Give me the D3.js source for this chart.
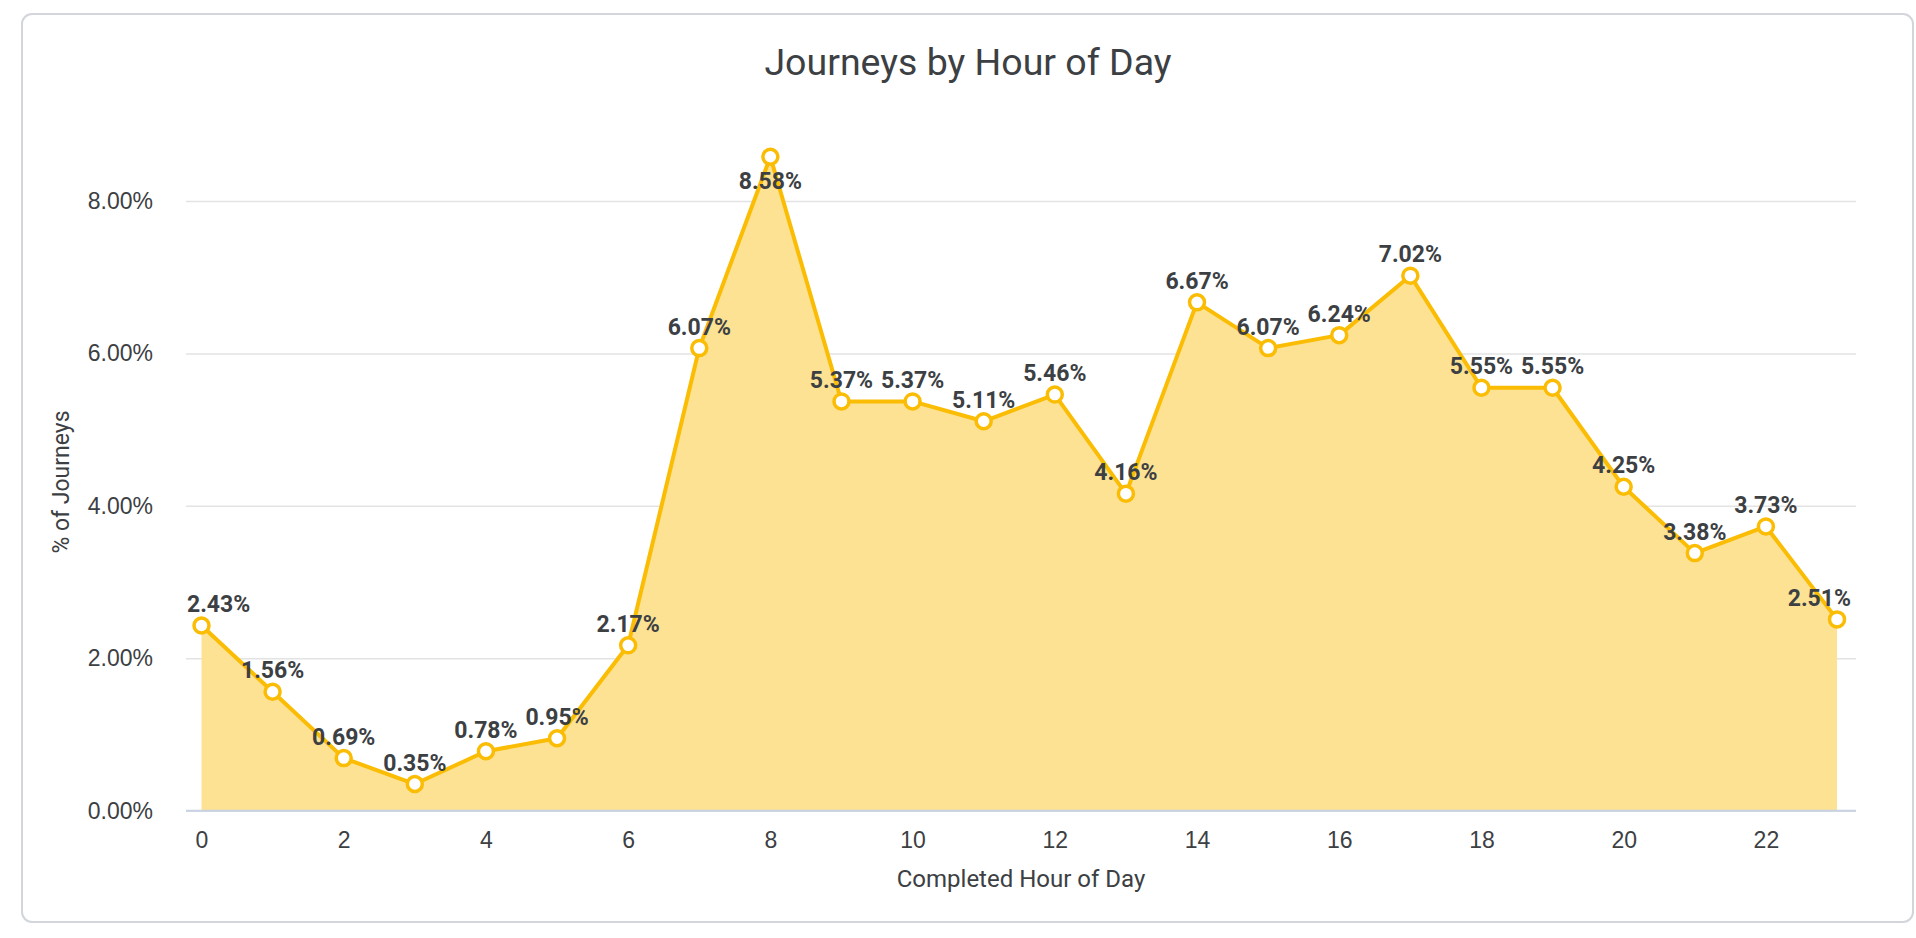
<!DOCTYPE html>
<meta charset="UTF-8">
<html>
<head>
<style>
html, body {
  margin:0;
  padding:0;
  background:#fff;
}
svg {
  display:block;
  font-family: Roboto, "Noto Sans", sans-serif;
}
.grid line {
  stroke:#e3e3e3;
  stroke-width:1.5px;
}
.grid text, .xaxis text {
  fill:#3c4043;
  font-size:23px;
}
.dlabel {
  fill:#3c4043;
  font-size:23px;
  font-weight:bold;
}
</style>
</head>
<body>
<svg width="1916" height="938"></svg>
<script src="https://cdn.jsdelivr.net/npm/d3@7"></script>
<script>
// hours 0..23 and share of journeys (%)
var hours = [0,1,2,3,4,5,6,7,8,9,10,11,12,13,14,15,16,17,18,19,20,21,22,23];
var shares = [2.43,1.56,0.69,0.35,0.78,0.95,2.17,6.07,8.58,5.37,5.37,5.11,5.46,4.16,6.67,6.07,6.24,7.02,5.55,5.55,4.25,3.38,3.73,2.51];
var yTicks = [0,2,4,6,8];
var xTicks = [0,2,4,6,8,10,12,14,16,18,20,22];

var svg = d3.select("svg");

// plot box
var plotL = 186, plotR = 1856, plotT = 201, plotB = 810.7;

var x = d3.scaleLinear().domain([0,23]).range([201.5,1837]);
var y = d3.scaleLinear().domain([0,8]).range([plotB, plotT]);

// card
svg.append("rect")
  .attr("x", 22).attr("y", 14)
  .attr("width", 1891).attr("height", 908)
  .attr("rx", 10)
  .attr("fill", "#fff")
  .attr("stroke", "#d2d5da")
  .attr("stroke-width", 2);

svg.append("text")
  .attr("x", 968).attr("y", 75)
  .attr("text-anchor", "middle")
  .attr("fill", "#3c4043")
  .style("font-size", "37.5px")
  .text("Journeys by Hour of Day");

// gridlines + y labels
var yAxis = d3.axisLeft(y)
  .tickValues(yTicks)
  .tickSize(-(plotR - plotL))
  .tickPadding(33)
  .tickFormat(function(d) { return d.toFixed(2) + "%"; });

var gy = svg.append("g")
  .attr("class", "grid")
  .attr("transform", "translate(" + plotL + ",0)")
  .call(yAxis);
gy.select(".domain").remove();

// area + line
var area = d3.area()
  .x(function(d, i) { return x(hours[i]); })
  .y0(plotB)
  .y1(function(d) { return y(d); });

var line = d3.line()
  .x(function(d, i) { return x(hours[i]); })
  .y(function(d) { return y(d); });

svg.append("path")
  .datum(shares)
  .attr("d", area)
  .attr("fill", "#fde293");

// baseline
svg.append("line")
  .attr("x1", plotL).attr("x2", plotR)
  .attr("y1", plotB).attr("y2", plotB)
  .attr("stroke", "#c9d2e3")
  .attr("stroke-width", 2);

var xAxis = d3.axisBottom(x)
  .tickValues(xTicks)
  .tickSize(0)
  .tickPadding(21);

var gx = svg.append("g")
  .attr("class", "xaxis")
  .attr("transform", "translate(0," + plotB + ")")
  .call(xAxis);
gx.select(".domain").remove();

svg.append("path")
  .datum(shares)
  .attr("d", line)
  .attr("fill", "none")
  .attr("stroke", "#fbbc04")
  .attr("stroke-width", 4)
  .attr("stroke-linejoin", "round");

svg.append("g")
  .selectAll("circle")
  .data(shares)
  .enter().append("circle")
    .attr("cx", function(d, i) { return x(hours[i]); })
    .attr("cy", function(d) { return y(d); })
    .attr("r", 7.5)
    .attr("fill", "#fff")
    .attr("stroke", "#fbbc04")
    .attr("stroke-width", 3.5);

// data labels, kept inside the plot box
var labels = svg.append("g")
  .selectAll("text")
  .data(shares)
  .enter().append("text")
    .attr("class", "dlabel")
    .attr("text-anchor", "middle")
    .text(function(d) { return d.toFixed(2) + "%"; });

labels.each(function(d, i) {
  var w = this.getComputedTextLength();
  var cx = x(hours[i]);
  cx = Math.max(cx, plotL + 1 + w / 2);
  cx = Math.min(cx, plotR - 5 - w / 2);
  var by = Math.max(y(d) - 13.4, 189.3);
  d3.select(this).attr("x", cx).attr("y", by);
});

// axis titles
svg.append("text")
  .attr("x", (plotL + plotR) / 2).attr("y", 887)
  .attr("text-anchor", "middle")
  .attr("fill", "#3c4043")
  .style("font-size", "24px")
  .text("Completed Hour of Day");

svg.append("text")
  .attr("transform", "translate(61,482) rotate(-90)")
  .attr("text-anchor", "middle")
  .attr("dy", "0.35em")
  .attr("fill", "#3c4043")
  .style("font-size", "23px")
  .text("% of Journeys");
</script>
</body>
</html>
